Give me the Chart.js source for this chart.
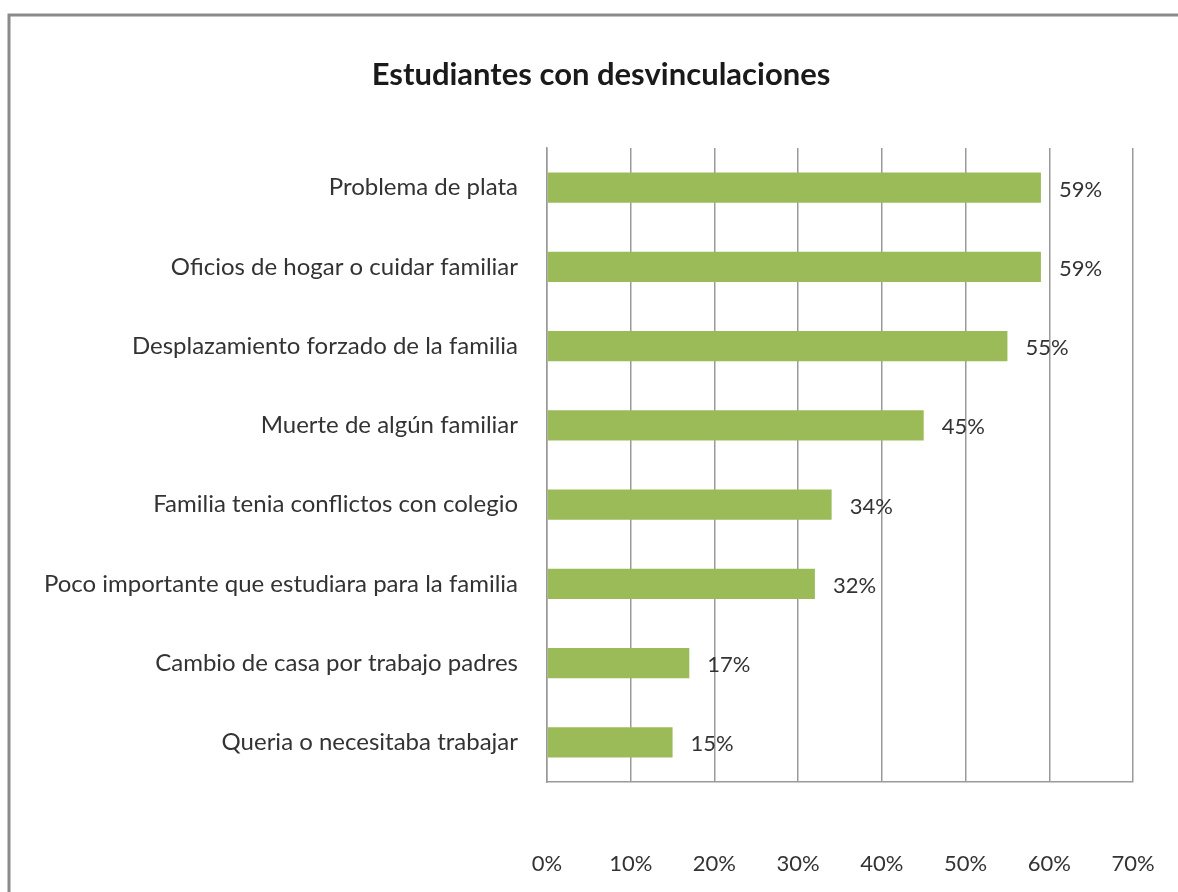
<!DOCTYPE html>
<html>
<head>
<meta charset="utf-8">
<script src="https://cdn.jsdelivr.net/npm/chart.js@4.4.0/dist/chart.umd.min.js"></script>
<style>
  body { margin: 0; background: #fff; }
  #wrap { position: relative; width: 1178px; height: 892px; }
</style>
</head>
<body>
<div id="wrap"><canvas id="myChart"></canvas></div>
<script>
const categories = [
    'Problema de plata',
    'Oficios de hogar o cuidar familiar',
    'Desplazamiento forzado de la familia',
    'Muerte de algún familiar',
    'Familia tenia conflictos con colegio',
    'Poco importante que estudiara para la familia',
    'Cambio de casa por trabajo padres',
    'Queria o necesitaba trabajar'
];
const values = [59, 59, 55, 45, 34, 32, 17, 15];
const tickValues = [0, 10, 20, 30, 40, 50, 60, 70];
const titleText = 'Estudiantes con desvinculaciones';

const fontFamily = 'Lato, "Open Sans", sans-serif';

// gray frame (only top and left edges are visible in the picture) + title
const framePlugin = {
    id: 'frame',
    beforeDraw(c) {
        const ctx = c.ctx;
        ctx.save();
        ctx.strokeStyle = '#8a8a8a';
        ctx.lineWidth = 3;
        ctx.strokeRect(9, 15, 1200, 900);
        ctx.font = 'bold 31px ' + fontFamily;
        ctx.fillStyle = '#1a1a1a';
        ctx.textAlign = 'center';
        ctx.textBaseline = 'middle';
        ctx.fillText(titleText, 601, 75);
        ctx.restore();
    }
};

// value labels right of each bar
const valueLabels = {
    id: 'valueLabels',
    afterDatasetsDraw(c) {
        const ctx = c.ctx;
        const meta = c.getDatasetMeta(0);
        ctx.save();
        ctx.font = '22px ' + fontFamily;
        ctx.fillStyle = '#333';
        ctx.textAlign = 'left';
        ctx.textBaseline = 'middle';
        meta.data.forEach((bar, i) => {
            ctx.fillText(values[i] + '%', bar.x + 18, bar.y + 2);
        });
        ctx.restore();
    }
};

const chart = document.getElementById('myChart');
const myChart = new Chart(chart, {
    type: 'bar',
    data: {
        labels: categories,
        datasets: [{
            data: values,
            backgroundColor: '#9bbb59',
            borderWidth: 0,
            categoryPercentage: 0.76,
            barPercentage: 0.5
        }]
    },
    options: {
        indexAxis: 'y',
        responsive: true,
        maintainAspectRatio: false,
        animation: false,
        layout: { padding: { left: 0, right: 45, top: 148, bottom: 0 } },
        plugins: {
            legend: { display: false },
            tooltip: { enabled: false },
            title: { display: false }
        },
        scales: {
            x: {
                min: 0,
                max: 70,
                afterBuildTicks(axis) {
                    axis.ticks = tickValues.map(v => ({ value: v }));
                },
                afterFit(axis) {
                    axis.height = 110;
                    axis.paddingLeft = 0;
                    axis.paddingRight = 0;
                },
                grid: { color: '#9a9a9a', lineWidth: 1.5, drawTicks: false },
                border: { color: '#9a9a9a', width: 1.5 },
                ticks: {
                    padding: 69,
                    color: '#333',
                    font: { family: fontFamily, size: 22 },
                    callback: v => v + '%'
                }
            },
            y: {
                afterFit(axis) { axis.width = 547; },
                grid: { display: false, drawTicks: false },
                border: { color: '#9a9a9a', width: 1.5 },
                ticks: {
                    padding: 29,
                    color: '#333',
                    font: { family: fontFamily, size: 24 }
                }
            }
        }
    },
    plugins: [framePlugin, valueLabels]
});
</script>
</body>
</html>
